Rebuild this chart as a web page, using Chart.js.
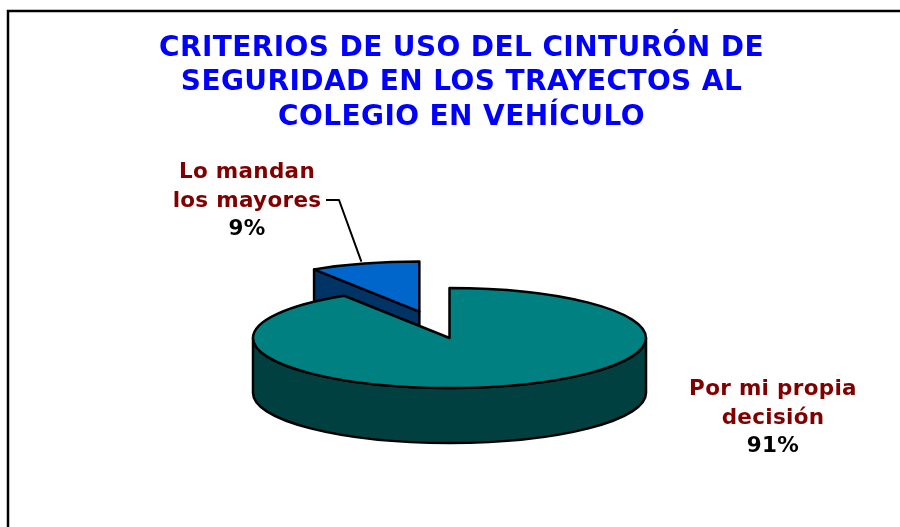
<!DOCTYPE html>
<html><head><meta charset="utf-8">
<style>html,body{margin:0;padding:0;background:#fff}#w{width:900px;height:527px;position:relative}</style>
<script src="https://cdn.jsdelivr.net/npm/chart.js@4/dist/chart.umd.js"></script>
</head><body><div id="w"><canvas id="c" width="900" height="527"></canvas></div>
<script>
const titleLines = ['CRITERIOS DE USO DEL CINTURÓN DE','SEGURIDAD EN LOS TRAYECTOS AL','COLEGIO EN VEHÍCULO'];
const categories = ['Por mi propia decisión','Lo mandan los mayores'];
const labelLines = [['Por mi propia','decisión'],['Lo mandan','los mayores']];
const values = [91,9];
const topColors = ['#008080','#0066CC'];
const sideColors = ['#004040','#003366'];

const FONT = '"DejaVu Sans"';
const K = 50/196.5, DEPTH = 55, EXPLODE = [0,108], SHIFT = -12;

function pos(arc,i){
  const mid=(arc.startAngle+arc.endAngle)/2;
  return {x:arc.x+SHIFT+Math.cos(mid)*EXPLODE[i], y:arc.y+Math.sin(mid)*EXPLODE[i]*K};
}
function drawSlice(ctx,arc,i){
  const {x,y}=pos(arc,i), R=arc.outerRadius, a0=arc.startAngle, a1=arc.endAngle;
  const pt=a=>[x+R*Math.cos(a),y+R*K*Math.sin(a)];
  ctx.lineWidth=2.5; ctx.strokeStyle='#000'; ctx.lineJoin='round';
  ctx.fillStyle=sideColors[i];
  ctx.beginPath();
  if(i===0){ // outer wall, front half
    const s=0, e=Math.PI;
    ctx.ellipse(x,y,R,R*K,0,s,e,false);
    ctx.lineTo(x-R,y+DEPTH);
    ctx.ellipse(x,y+DEPTH,R,R*K,0,e,s,true);
    ctx.closePath();
  } else { // cut face seen from the front
    const p=pt(a0);
    ctx.moveTo(p[0],p[1]); ctx.lineTo(x,y); ctx.lineTo(x,y+DEPTH); ctx.lineTo(p[0],p[1]+DEPTH); ctx.closePath();
  }
  ctx.fill(); ctx.stroke();
  ctx.save();
  ctx.translate(x,y); ctx.scale(1,K); ctx.translate(-arc.x,-arc.y);
  arc.draw(ctx);
  ctx.restore();
  ctx.beginPath();
  ctx.moveTo(x,y);
  ctx.ellipse(x,y,R,R*K,0,a0,a1,false);
  ctx.closePath(); ctx.stroke();
}
function labelBlock(ctx,lines,pct,cx,ys){
  ctx.textAlign='center'; ctx.textBaseline='middle';
  ctx.font='bold 21.5px '+FONT;
  ctx.letterSpacing='0.3px';
  ctx.fillStyle='#800000';
  lines.forEach((t,j)=>ctx.fillText(t,cx,ys[j]));
  ctx.fillStyle='#000';
  ctx.fillText(pct,cx,ys[lines.length]);
  ctx.letterSpacing='0px';
}
const pie3d={
  id:'pie3d',
  beforeDraw(chart){
    const ctx=chart.ctx; ctx.save();
    ctx.strokeStyle='#000'; ctx.lineWidth=2.5;
    ctx.beginPath(); ctx.moveTo(8,527); ctx.lineTo(8,11); ctx.lineTo(900,11); ctx.stroke();
    ctx.restore();
    ctx.letterSpacing='0.4px';
  },
  beforeDatasetDraw(chart,args){
    const ctx=chart.ctx, arcs=args.meta.data;
    drawSlice(ctx,arcs[1],1);
    drawSlice(ctx,arcs[0],0);
    return false;
  },
  afterDatasetsDraw(chart){
    const ctx=chart.ctx; ctx.save();
    ctx.strokeStyle='#000'; ctx.lineWidth=2;
    const a=chart.getDatasetMeta(0).data[1], p=pos(a,1);
    ctx.beginPath();
    ctx.moveTo(326,200); ctx.lineTo(339,200); ctx.lineTo(p.x-58,p.y-50); ctx.stroke();
    const tot=values.reduce((s,v)=>s+v,0);
    labelBlock(ctx,labelLines[0],Math.round(values[0]/tot*100)+'%',773,[389,418,446]);
    labelBlock(ctx,labelLines[1],Math.round(values[1]/tot*100)+'%',247,[172,201,229]);
    ctx.restore();
  }
};
new Chart(document.getElementById('c'),{
  type:'pie',
  data:{labels:categories,datasets:[{data:values,backgroundColor:topColors,borderWidth:0}]},
  options:{
    responsive:false,animation:false,
    radius:196.5,
    layout:{padding:{left:24,right:1}},
    plugins:{
      legend:{display:false},tooltip:{enabled:false},
      title:{display:true,fullSize:false,text:titleLines,color:'#0000FF',
        font:{family:FONT,weight:'bold',size:28,lineHeight:1.232},
        padding:{top:31,bottom:14.5}}
    }
  },
  plugins:[pie3d]
});
</script></body></html>
